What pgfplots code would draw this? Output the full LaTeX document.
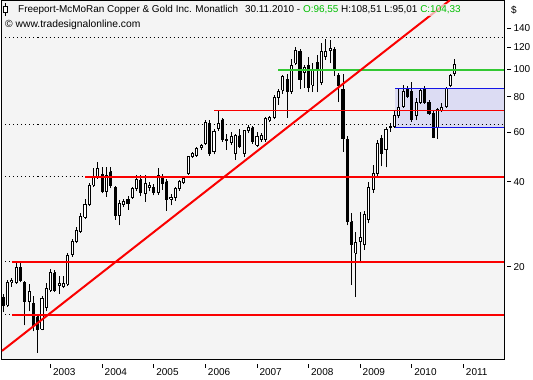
\documentclass[border=0pt]{standalone}
\usepackage{pgfplots}
\pgfplotsset{compat=1.18}
\usepackage{pgfplotstable}
\usepackage{fontspec}
\setmainfont{Liberation Sans}
\definecolor{bgc}{RGB}{244,244,244}
\definecolor{boxc}{RGB}{220,220,243}
\definecolor{tgreen}{RGB}{0,190,0}
\definecolor{lgreen}{RGB}{50,200,50}
\definecolor{lred}{RGB}{250,0,0}
\definecolor{lblue}{RGB}{20,20,230}

\pgfplotstableread{
o h l c
15.6 16.0 13.8 14.6
14.6 17.9 14.4 17.6
17.6 18.3 17.0 17.9
17.6 20.8 17.4 19.8
19.8 20.8 17.6 17.9
17.6 17.8 12.4 15.0
15.0 17.3 13.9 16.3
14.8 15.8 11.8 12.4
13.3 13.6 9.9 12.0
12.0 15.7 11.9 15.4
14.3 17.5 13.9 16.7
16.5 19.6 16.3 19.0
19.0 19.4 16.3 16.5
17.1 18.6 16.0 17.4
17.0 18.6 16.8 17.4
17.3 22.4 17.1 21.9
22.0 25.1 21.7 24.5
24.5 27.7 24.2 26.8
26.6 31.1 26.3 30.1
29.9 34.7 29.5 33.2
33.1 39.6 32.8 38.9
38.9 44.6 38.3 41.7
41.7 47.0 41.0 44.6
42.5 45.1 36.4 36.9
36.9 45.1 35.4 42.2
43.3 45.0 37.9 38.9
38.0 38.5 29.3 30.3
30.3 34.5 28.0 33.5
33.1 34.6 32.5 34.0
34.7 35.5 31.8 33.4
35.3 38.2 34.8 37.8
37.8 42.2 37.0 40.6
40.6 42.2 35.5 36.5
36.3 42.2 34.0 39.5
38.3 40.0 37.0 38.9
38.3 39.2 35.8 36.5
36.5 44.7 36.0 42.0
41.3 42.5 37.5 39.5
40.0 41.0 31.5 34.5
34.7 36.3 33.0 35.2
35.3 38.3 34.3 37.8
37.8 40.5 37.2 40.0
39.7 41.8 39.2 41.1
42.8 49.5 42.3 49.1
49.1 51.0 48.5 50.4
49.4 53.0 49.0 52.6
53.0 54.5 52.0 53.8
54.6 66.3 54.0 65.0
64.5 66.0 49.5 50.4
51.0 61.5 50.0 60.0
61.7 71.8 60.5 64.3
66.3 67.5 55.5 56.3
55.9 59.0 52.0 56.5
55.0 60.0 54.0 57.7
50.4 59.0 47.8 58.3
58.3 61.5 52.5 53.4
50.4 61.0 49.0 60.5
60.5 63.5 59.5 62.2
62.2 63.0 54.5 55.5
53.8 60.0 53.0 57.7
56.3 59.5 55.5 58.3
56.3 68.0 55.5 67.0
66.0 68.5 65.0 67.5
67.4 81.0 66.5 79.2
79.2 85.0 75.0 83.3
84.2 95.5 82.0 94.0
92.3 96.0 67.3 83.5
83.5 109.0 82.0 103.5
105.0 120.0 104.0 117.0
116.0 118.0 85.0 92.0
97.5 104.0 86.0 101.4
103.5 111.0 83.0 86.3
88.0 105.0 83.0 99.6
106.0 112.0 83.0 98.7
89.6 124.0 88.0 115.7
111.0 128.0 108.0 115.7
116.4 127.0 105.0 118.3
118.0 120.0 95.0 100.0
95.3 97.0 76.6 88.0
84.9 96.6 51.0 57.0
56.3 58.0 28.0 28.8
28.8 31.0 17.2 23.9
22.3 26.5 15.6 24.4
24.5 31.2 20.6 25.3
24.0 31.5 23.0 30.6
29.3 40.0 28.5 38.3
37.5 45.8 36.5 42.8
42.8 56.0 42.0 54.7
57.0 58.5 45.3 50.4
51.9 62.5 45.0 61.1
62.0 64.5 60.0 62.6
62.5 71.0 62.0 68.8
68.4 85.0 67.0 73.0
74.0 88.0 73.0 83.6
84.6 87.5 79.5 80.2
83.6 90.0 65.0 66.3
68.5 79.5 66.0 76.6
76.6 85.5 75.5 84.0
85.0 87.5 75.5 76.6
76.6 78.0 69.0 70.0
70.0 71.0 57.0 57.6
62.2 73.0 56.8 71.8
71.5 76.0 70.5 73.0
73.6 86.5 73.0 85.7
87.5 96.5 86.5 95.5
96.55 108.51 95.01 104.33
}\ohlc

\begin{document}
\begin{tikzpicture}[x=1pt,y=1pt]
\useasboundingbox (0,0) rectangle (533,380);
\fill[white] (0,0) rectangle (533,380);
\begin{axis}[
  at={(1.5pt,20pt)}, anchor=south west, scale only axis,
  width=502.5pt, height=359pt,
  xmin=-0.42, xmax=116.44,
  ymode=log, ymin=9.34, ymax=174.7,
  axis background/.style={fill=bgc},
  axis line style={black, line width=1pt},
  xtick={11,23,35,47,59,71,83,95,107},
  xticklabels={2003,2004,2005,2006,2007,2008,2009,2010,2011},
  ytick={20,40,60,80,100,120,140},
  yticklabels={20,40,60,80,100,120,140},
  yminorticks=false, xminorticks=false,
  xtick pos=bottom, ytick pos=right, yticklabel pos=right,
  tick align=outside, major tick length=4pt,
  xtick style={black, line width=0.8pt, yshift=-4pt},
  ytick style={black, line width=0.8pt, xshift=3pt},
  xticklabel style={anchor=north west, xshift=-1pt, yshift=-1pt},
  yticklabel style={anchor=west, xshift=2pt},
  tick label style={font=\fontsize{10}{12}\selectfont},
  clip=true,
]
% target zone
\addplot[fill=boxc, draw=none, forget plot] coordinates {(91.1,62.3) (116.44,62.3) (116.44,85.4) (91.1,85.4) (91.1,62.3)};
% dotted levels
\addplot[black, line width=0.8pt, dash pattern=on 1pt off 3pt, forget plot] coordinates {(-0.42,129.3) (116.44,129.3)};
\addplot[black, line width=0.8pt, dash pattern=on 1pt off 3pt, forget plot] coordinates {(-0.42,63.7) (116.44,63.7)};
\addplot[black, line width=0.8pt, dash pattern=on 1pt off 3pt, forget plot] coordinates {(-0.42,41.7) (116.44,41.7)};
\addplot[black, line width=0.8pt, dash pattern=on 1pt off 3pt, forget plot] coordinates {(-0.42,20.8) (116.44,20.8)};
\addplot[black, line width=0.8pt, dash pattern=on 1pt off 3pt, forget plot] coordinates {(-0.42,13.5) (116.44,13.5)};
% candles
\pgfplotstablegetrowsof{\ohlc}
\pgfmathtruncatemacro\N{\pgfplotsretval-1}
\pgfplotsforeachungrouped \k in {0,...,\N}{%
  \pgfplotstablegetelem{\k}{o}\of\ohlc \let\vo\pgfplotsretval
  \pgfplotstablegetelem{\k}{h}\of\ohlc \let\vh\pgfplotsretval
  \pgfplotstablegetelem{\k}{l}\of\ohlc \let\vl\pgfplotsretval
  \pgfplotstablegetelem{\k}{c}\of\ohlc \let\vc\pgfplotsretval
  \pgfmathsetmacro\xa{\k-0.25}%
  \pgfmathsetmacro\xb{\k+0.25}%
  \pgfmathtruncatemacro\up{\vc>=\vo ? 1 : 0}%
  \ifnum\up=1 \def\fc{white}\else\def\fc{black}\fi
  \edef\cmd{\noexpand\addplot[black, line width=1pt, forget plot] coordinates {(\k,\vl) (\k,\vh)};%
    \noexpand\addplot[draw=black, fill=\fc, line width=1pt, forget plot] coordinates {(\xa,\vo) (\xb,\vo) (\xb,\vc) (\xa,\vc) (\xa,\vo)};}%
  \cmd
}
% zone borders
\addplot[lblue, line width=1pt, forget plot] coordinates {(91.1,85.4) (116.44,85.4)};
\addplot[lblue, line width=1pt, forget plot] coordinates {(91.1,62.3) (116.44,62.3)};
% support / resistance
\addplot[lred, line width=2pt, forget plot] coordinates {(2.0,13.5) (116.44,13.5)};
\addplot[lred, line width=2pt, forget plot] coordinates {(2.0,20.8) (116.44,20.8)};
\addplot[lred, line width=2pt, forget plot] coordinates {(19.0,41.7) (116.44,41.7)};
\addplot[lred, line width=1pt, forget plot] coordinates {(49.0,71.7) (116.44,71.7)};
\addplot[lgreen, line width=2pt, forget plot] coordinates {(63.9,99.6) (116.44,99.6)};
% trend line
\addplot[lred, line width=2pt, forget plot] coordinates {(-0.3,10.06) (103.9,176.1)};
\end{axis}
% header
\draw[black, line width=1pt] (5,364) -- (5,377);
\draw[black, line width=1pt, fill=white] (3,367.5) rectangle (7,373.5);
\node[anchor=west, inner sep=1pt, fill=bgc, fill opacity=0.7, text opacity=1,
      font=\fontsize{9.95}{12}\selectfont] at (17,370)
  {Freeport-McMoRan Copper \& Gold Inc. Monatlich\hspace{7pt}30.11.2010 - \textcolor{tgreen}{O:96,55} H:108,51 L:95,01 \textcolor{tgreen}{C:104,33}};
\node[anchor=west, inner sep=1pt, font=\fontsize{10.3}{12}\selectfont] at (4,355) {\textcopyright{} www.tradesignalonline.com};
\node[anchor=west, inner sep=0pt, font=\fontsize{10}{12}\selectfont] at (511,370) {\$};
\end{tikzpicture}
\end{document}
